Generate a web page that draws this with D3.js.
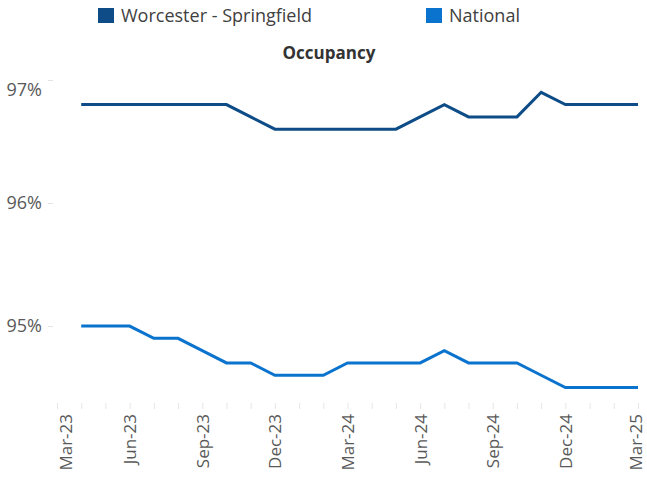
<!DOCTYPE html>
<html>
<head>
<meta charset="utf-8">
<script src="https://cdn.jsdelivr.net/npm/d3@7"></script>
<style>
  body { margin: 0; background: #fff; }
  svg { display: block; font-family: "Open Sans", sans-serif; }
</style>
</head>
<body>
<div id="chart"></div>
<script>
'use strict';

// monthly categories, Mar-23 .. Mar-25
var months = ['Mar-23','Apr-23','May-23','Jun-23','Jul-23','Aug-23','Sep-23','Oct-23','Nov-23','Dec-23',
  'Jan-24','Feb-24','Mar-24','Apr-24','May-24','Jun-24','Jul-24','Aug-24','Sep-24','Oct-24','Nov-24','Dec-24',
  'Jan-25','Feb-25','Mar-25'];
var tickLabels = ['Mar-23','Jun-23','Sep-23','Dec-23','Mar-24','Jun-24','Sep-24','Dec-24','Mar-25'];

// occupancy %, no value for the first month
var worcester = [null, 96.8, 96.8, 96.8, 96.8, 96.8, 96.8, 96.8, 96.7, 96.6,
  96.6, 96.6, 96.6, 96.6, 96.6, 96.7, 96.8, 96.7, 96.7, 96.7, 96.9, 96.8,
  96.8, 96.8, 96.8];
var national = [null, 95.0, 95.0, 95.0, 94.9, 94.9, 94.8, 94.7, 94.7, 94.6,
  94.6, 94.6, 94.7, 94.7, 94.7, 94.7, 94.8, 94.7, 94.7, 94.7, 94.6, 94.5,
  94.5, 94.5, 94.5];
var yTicks = [95, 96, 97];

var seriesNames = ['Worcester - Springfield', 'National'];
var seriesColors = ['#0D4C87', '#0A73CD'];

var width = 647, height = 478;
var svg = d3.select('#chart').append('svg').attr('width', width).attr('height', height);

var x = d3.scalePoint().domain(months).range([57, 638]);
var y = d3.scaleLinear().domain([94.35, 97]).range([406, 80]);

// y axis: labels + tiny ticks, no line
var yAxis = svg.append('g').attr('transform', 'translate(53,0)')
  .call(d3.axisLeft(y).tickValues(yTicks).tickSize(5).tickPadding(6).tickFormat(function(d) { return d + '%'; }));
yAxis.select('.domain').remove();
yAxis.selectAll('line').attr('stroke', '#e3e3e3');
yAxis.selectAll('text').attr('font-size', 18).attr('fill', '#595959').attr('font-family', 'Open Sans')
  .attr('dy', function(d) { return d === 97 ? '0.85em' : '0.32em'; });

// x axis: month ticks, quarterly labels rotated
var xAxis = svg.append('g').attr('transform', 'translate(0,403)')
  .call(d3.axisBottom(x).tickSize(6).tickFormat(function(d) { return tickLabels.indexOf(d) >= 0 ? d : ''; }));
xAxis.select('.domain').remove();
xAxis.selectAll('line').attr('stroke', '#e6e6e6');
xAxis.selectAll('text')
  .attr('font-size', 17).attr('fill', '#595959').attr('font-family', 'Open Sans')
  .attr('text-anchor', 'end')
  .attr('transform', 'rotate(-90)')
  .attr('x', -11).attr('y', 0).attr('dy', '0.35em')
  .attr('dx', 0);
// first label sits a bit to the right in the original, last one kept inside the edge
xAxis.selectAll('.tick').filter(function(d) { return d === 'Mar-23'; }).select('text').attr('dy', '0.85em');
xAxis.selectAll('.tick').filter(function(d) { return d === 'Mar-25'; }).select('text').attr('dy', '0.2em');

var line = d3.line()
  .defined(function(d) { return d != null; })
  .x(function(d, i) { return x(months[i]); })
  .y(function(d) { return y(d); });

[worcester, national].forEach(function(vals, k) {
  svg.append('path').datum(vals)
    .attr('d', line)
    .attr('fill', 'none')
    .attr('stroke', seriesColors[k])
    .attr('stroke-width', 3)
    .attr('stroke-linejoin', 'miter');
});

// title
svg.append('text').attr('x', 329).attr('y', 59).attr('text-anchor', 'middle')
  .attr('font-size', 17).attr('font-weight', 'bold').attr('fill', '#333')
  .text('Occupancy');

// legend
var legendX = [98, 426];
var legend = svg.append('g');
seriesNames.forEach(function(name, k) {
  legend.append('rect').attr('x', legendX[k]).attr('y', 8).attr('width', 16).attr('height', 15)
    .attr('fill', seriesColors[k]);
  legend.append('text').attr('x', legendX[k] + 23).attr('y', 22)
    .attr('font-size', 18).attr('fill', '#404040')
    .text(name);
});
</script>
</body>
</html>
